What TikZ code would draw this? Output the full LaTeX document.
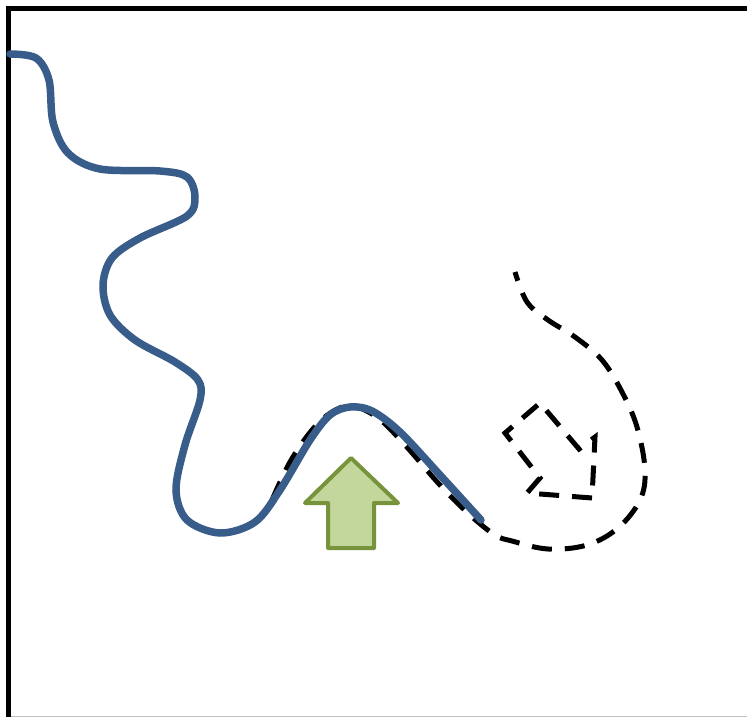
\documentclass[tikz,border=0pt]{standalone}
\usepackage{tikz}
\usetikzlibrary{calc}

\definecolor{riverblue}{HTML}{385D8A}
\definecolor{olivefill}{HTML}{C3D69B}
\definecolor{oliveline}{HTML}{77933C}

\begin{document}
\begin{tikzpicture}[
    x=1pt, y=-1pt,
    frame/.style={draw=black, line width=5pt},
    river/.style={draw=riverblue, line width=7.5pt, line cap=round},
    track/.style={draw=black, line width=5pt, dash pattern=on 20pt off 13pt},
    pusharrow/.style={draw=oliveline, fill=olivefill, line width=4pt, line join=round}
]
\useasboundingbox (0,0) rectangle (747,717);

% Frame
\draw[lightgray, line width=1pt] (8,716) -- (747,716);
\draw[frame] (8,717) -- (8,8.5) -- (747,8.5);

% Dashed track
\draw[track] plot[smooth, tension=0.6] coordinates {
    (272,500) (290,462) (312,430) (332,412) (352,406) (378,418) (405,445)
    (440,485) (470,515) (495,535) (512,541) (548,549) (587,545) (618,528)
    (640,500) (645,470) (637,427) (622,392) (602,360) (575,337) (548,320)
    (527,302) (515,272)};

% Inner loop
\draw[track, line join=miter] (592,498) -- (527,493) -- (540,478) -- (505,433)
    -- (540,403) -- (579,449) -- (595,437) -- cycle;

% River
\draw[river] plot[smooth, tension=0.55] coordinates {
    (10,54) (36,58) (49,80) (53,122) (68,153) (100,169) (160,171)
    (187,177) (195,197) (187,216) (140,238) (112,258) (103,285) (110,315)
    (135,340) (175,362) (198,380) (200,400) (185,445) (176,490) (187,520)
    (220,533) (255,522) (280,490) (310,440) (330,415) (350,407) (372,411)
    (400,432) (440,475) (481,520)};

% Push arrow
\draw[pusharrow] (351,458) -- (398,503) -- (374,503) -- (374,548)
    -- (328,548) -- (328,503) -- (305,503) -- cycle;

\end{tikzpicture}
\end{document}
